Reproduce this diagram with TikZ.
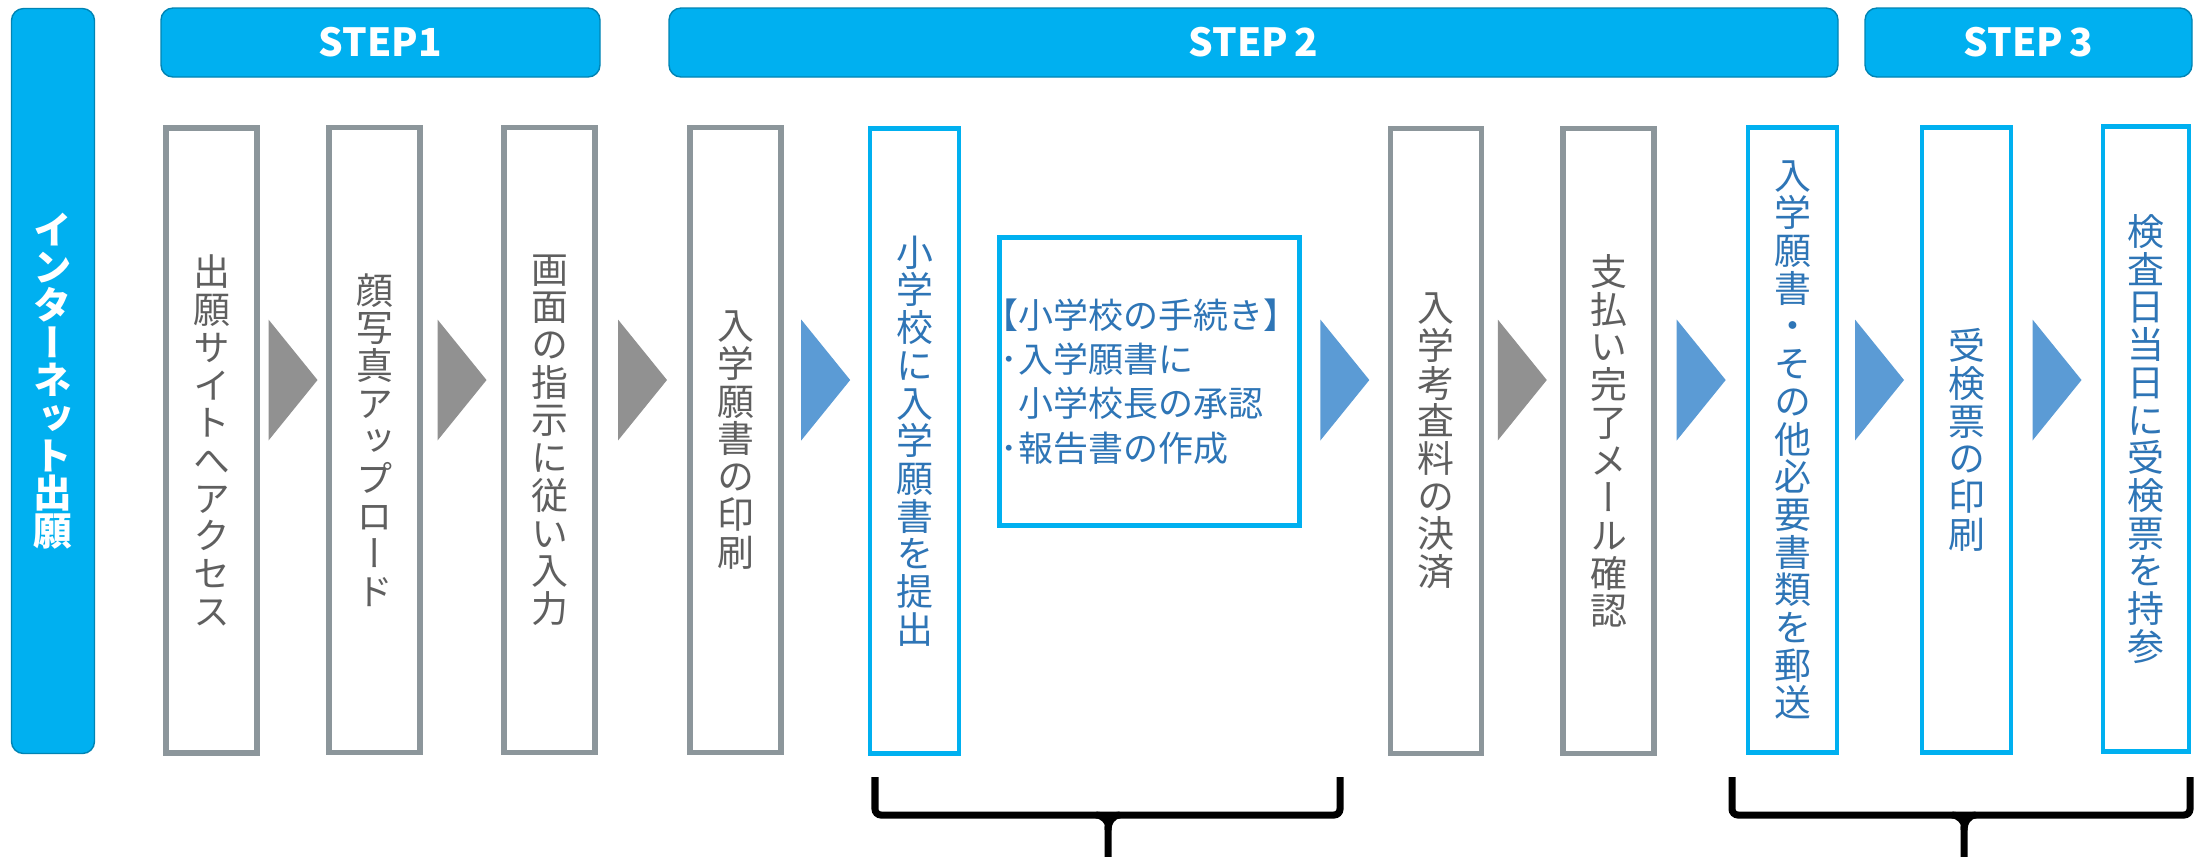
\documentclass[tikz,border=0pt]{standalone}
\usepackage{fontspec}
\usetikzlibrary{calc}

\newfontfamily\tatefont[RawFeature=+vert]{Noto Sans CJK JP}
\newfontfamily\yokofont{Noto Sans CJK JP}

\definecolor{stepblue}{RGB}{0,176,240}
\definecolor{boxgray}{RGB}{140,150,155}
\definecolor{textgray}{RGB}{95,95,95}
\definecolor{textblue}{RGB}{46,117,182}
\definecolor{arrgray}{RGB}{145,145,145}
\definecolor{arrblue}{RGB}{91,155,213}

\newlength\tateskip
\setlength\tateskip{0.377cm}
\makeatletter
\newcommand\tate[1]{\vbox{\baselineskip=\tateskip\lineskiplimit=-\maxdimen\tate@loop#1\relax}}
\def\tate@loop#1{\ifx#1\relax\else\hbox to 1em{\hss#1\hss}\expandafter\tate@loop\fi}
\makeatother

\begin{document}
\begin{tikzpicture}[
		stepbar/.style={fill=stepblue, draw=stepblue!75!black, line width=0.4pt, rounded corners=0.12cm, text=white, minimum height=0.69cm, inner sep=0, font=\yokofont\bfseries\fontsize{11pt}{12pt}\selectfont},
		graybox/.style={draw=boxgray, line width=1.6pt, fill=white, minimum width=0.91cm, minimum height=6.25cm, inner sep=0, text=textgray, font=\tatefont\fontsize{10.5pt}{10.7pt}\selectfont},
		bluebox/.style={graybox, draw=stepblue, line width=1.4pt, minimum width=0.89cm, text=textblue},
		brace/.style={draw=black, line width=2pt, rounded corners=0.06cm},
	]
			\useasboundingbox (0,0) rectangle (21.94,-8.56);

			\node[stepbar, minimum width=0.83cm, minimum height=7.45cm] (net) at (0.53,-3.81) {\tatefont\bfseries\tate{インターネット出願}};
			\node[stepbar, minimum width=4.39cm] (s1) at (3.805,-0.425) {STEP1};
			\node[stepbar, minimum width=11.69cm] (s2) at (12.535,-0.425) {STEP\,2};
			\node[stepbar, minimum width=3.27cm] (s3) at (20.285,-0.425) {STEP\,3};

			\node[graybox] (site) at (2.115,-4.405) {\tate{出願サイトへアクセス}};
			\node[graybox] (photo) at (3.745,-4.40) {\tate{顔写真アップロード}};
			\node[graybox] (input) at (5.495,-4.40) {\tate{画面の指示に従い入力}};
			\node[graybox] (print) at (7.355,-4.40) {\tate{入学願書の印刷}};
			\node[bluebox] (submit) at (9.145,-4.41) {\tate{小学校に入学願書を提出}};
			\node[bluebox, minimum width=3.0cm, minimum height=2.88cm, align=left, font=\yokofont\fontsize{9.96pt}{12.6pt}\selectfont] (school) at (11.495,-3.815) {\hspace*{-0.5em}【小学校の手続き】\\･入学願書に\\\hspace*{0.5em}小学校長の承認\\･報告書の作成};
			\node[graybox] (pay) at (14.36,-4.41) {\tate{入学考査料の決済}};
			\node[graybox] (mail) at (16.085,-4.41) {\tate{支払い完了メール確認}};
			\node[bluebox] (post) at (17.925,-4.40) {\tate{入学願書・その他必要書類を郵送}};
			\node[bluebox] (ticket) at (19.665,-4.40) {\tate{受検票の印刷}};
			\node[bluebox, minimum width=0.86cm] (exam) at (21.46,-4.39) {\tate{検査日当日に受検票を持参}};

			\coordinate (row) at (0,-3.80);
			\foreach \a/\b/\c in {site/photo/arrgray, photo/input/arrgray, input/print/arrgray, print/submit/arrblue, school/pay/arrblue, pay/mail/arrgray, mail/post/arrblue, post/ticket/arrblue, ticket/exam/arrblue}{
				\coordinate (m) at ($(\a.east)!0.5!(\b.west)$);
				\coordinate (t) at (m |- row);
				\fill[\c] (t) ++(-0.245,0.605) -- ++(0.49,-0.605) -- ++(-0.49,-0.605) -- cycle;
			}

			\coordinate (k1a) at (8.75,-7.77);
			\coordinate (k1m) at (11.08,-8.15);
			\coordinate (k1b) at (13.40,-7.77);
			\draw[brace] (k1a) |- (k1m) -| (k1b);
			\draw[brace] (k1m) ++(-0.12,0) to[out=0,in=90] ++(0.12,-0.15) -- ++(0,-0.3);
			\draw[brace] (k1m) ++(0.12,0) to[out=180,in=90] ++(-0.12,-0.15);

			\coordinate (k2a) at (17.32,-7.77);
			\coordinate (k2m) at (19.64,-8.15);
			\coordinate (k2b) at (21.90,-7.77);
			\draw[brace] (k2a) |- (k2m) -| (k2b);
			\draw[brace] (k2m) ++(-0.12,0) to[out=0,in=90] ++(0.12,-0.15) -- ++(0,-0.3);
			\draw[brace] (k2m) ++(0.12,0) to[out=180,in=90] ++(-0.12,-0.15);
		\end{tikzpicture}
\end{document}
